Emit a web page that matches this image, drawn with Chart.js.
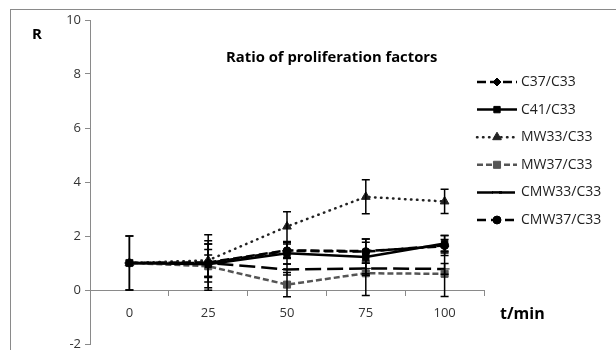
<!DOCTYPE html>
<html>
<head>
<meta charset="utf-8">
<script src="https://cdn.jsdelivr.net/npm/chart.js@4"></script>
<style>
  html, body { margin: 0; padding: 0; background: #fff; }
  #wrap { position: relative; width: 616px; height: 350px; }
</style>
</head>
<body>
<div id="wrap"><canvas id="chart" width="616" height="350"></canvas></div>
<script>
const times = ["0", "25", "50", "75", "100"];
const yTicks = [-2, 0, 2, 4, 6, 8, 10];

const c37 = [1.0, 1.02, 1.47, 1.44, 1.62];
const c41 = [1.0, 0.95, 1.36, 1.22, 1.72];
const mw33 = [1.0, 1.1, 2.35, 3.45, 3.28];
const mw37 = [1.0, 0.88, 0.2, 0.62, 0.6];
const cmw33 = [1.0, 1.0, 0.76, 0.8, 0.78];
const cmw37 = [1.0, 1.0, 1.45, 1.42, 1.65];

const c37Err = [1.0, 1.03, 0.3, 0.45, 0.25];
const c41Err = [1.0, 0.87, 0.4, 0.67, 0.3];
const mw33Err = [0, 0.6, 0.55, 0.63, 0.45];
const mw37Err = [0, 0.42, 0.45, 0.82, 0.84];
const cmw33Err = [0, 0.7, 0.2, 0.2, 0.2];
const cmw37Err = [0, 0.5, 0.25, 0.35, 0.37];

const font = "'Open Sans', sans-serif";

const series = (label, data, err, color, dash, pointStyle, radius) => ({
  label: label,
  data: data,
  errors: err,
  borderColor: color,
  backgroundColor: color,
  borderWidth: 2.5,
  borderDash: dash,
  pointStyle: pointStyle,
  pointRadius: radius,
  pointBorderWidth: 1,
  pointBorderColor: color,
  pointBackgroundColor: color,
  tension: 0,
  fill: false,
});

const datasets = [
  series("C37/C33", c37, c37Err, "#000", [9, 4], "rectRot", 4),
  series("C41/C33", c41, c41Err, "#000", [], "rect", 4.5),
  series("MW33/C33", mw33, mw33Err, "#222", [0.5, 5.5], "triangle", 5),
  series("MW37/C33", mw37, mw37Err, "#555", [6, 3], "rect", 5),
  series("CMW33/C33", cmw33, cmw33Err, "#000", [16, 6], "line", 5),
  series("CMW37/C33", cmw37, cmw37Err, "#000", [9, 5], "circle", 4),
];
datasets[2].borderCapStyle = "round";

const decorPlugin = {
  id: "decor",
  beforeDraw(chart) {
    const ctx = chart.ctx;
    ctx.save();
    ctx.strokeStyle = "#8a8a8a";
    ctx.lineWidth = 1;
    ctx.strokeRect(10.5, 9.5, 700, 400);
    ctx.restore();
  },
  afterDatasetsDraw(chart) {
    const ctx = chart.ctx;
    const y = chart.scales.y;
    ctx.save();
    ctx.strokeStyle = "#000";
    ctx.lineWidth = 1.5;
    chart.data.datasets.forEach((ds, i) => {
      const meta = chart.getDatasetMeta(i);
      meta.data.forEach((pt, j) => {
        const e = ds.errors[j];
        if (!e) return;
        const top = y.getPixelForValue(ds.data[j] + e);
        const bot = y.getPixelForValue(ds.data[j] - e);
        ctx.beginPath();
        ctx.moveTo(pt.x, top);
        ctx.lineTo(pt.x, bot);
        ctx.moveTo(pt.x - 4, top);
        ctx.lineTo(pt.x + 4, top);
        ctx.moveTo(pt.x - 4, bot);
        ctx.lineTo(pt.x + 4, bot);
        ctx.stroke();
      });
    });
    ctx.restore();
  },
  afterDraw(chart) {
    const ctx = chart.ctx;
    ctx.save();
    ctx.fillStyle = "#000";
    ctx.textBaseline = "middle";
    ctx.textAlign = "left";
    ctx.font = "bold 14.8px " + font;
    ctx.fillText("Ratio of proliferation factors", 226, 58);
    ctx.font = "bold 15px " + font;
    ctx.fillText("R", 32, 35);
    ctx.font = "bold 16px " + font;
    ctx.fillText("t/min", 500, 314);

    // legend
    ctx.font = "14px " + font;
    chart.data.datasets.forEach((ds, i) => {
      const ly = 82 + i * 27.6;
      ctx.save();
      ctx.strokeStyle = ds.borderColor;
      ctx.lineWidth = 2.5;
      ctx.setLineDash(ds.borderDash);
      if (ds.borderCapStyle) ctx.lineCap = ds.borderCapStyle;
      ctx.beginPath();
      ctx.moveTo(477, ly);
      ctx.lineTo(517, ly);
      ctx.stroke();
      ctx.restore();
      ctx.save();
      ctx.fillStyle = ds.pointBackgroundColor;
      ctx.strokeStyle = ds.pointBorderColor;
      ctx.lineWidth = ds.pointStyle === "line" ? 2.5 : 1;
      Chart.helpers.drawPoint(ctx, {
        pointStyle: ds.pointStyle,
        radius: ds.pointRadius,
        rotation: 0,
        borderWidth: 1,
      }, 497, ly);
      ctx.restore();
      ctx.fillStyle = "#222";
      ctx.fillText(ds.label, 521, ly);
    });
    ctx.restore();
  },
};

new Chart(document.getElementById("chart"), {
  type: "line",
  data: { labels: times, datasets: datasets },
  options: {
    responsive: false,
    animation: false,
    layout: { padding: { left: 0, right: 132, top: 20, bottom: 5 } },
    plugins: { legend: { display: false }, tooltip: { enabled: false } },
    scales: {
      x: {
        position: { y: 0 },
        offset: true,
        grid: { offset: true, drawOnChartArea: false, tickLength: 5, color: "#8a8a8a" },
        border: { color: "#8a8a8a", width: 1 },
        ticks: { padding: 10, color: "#333", font: { family: font, size: 13 } },
      },
      y: {
        min: -2,
        max: 10,
        afterBuildTicks: (s) => { s.ticks = yTicks.map((v) => ({ value: v })); },
        afterFit: (s) => { s.width = 90; s.paddingTop = 0; s.paddingBottom = 0; },
        grid: { drawOnChartArea: false, tickLength: 5, color: "#8a8a8a" },
        border: { color: "#8a8a8a", width: 1 },
        ticks: { padding: 4, color: "#333", font: { family: font, size: 13 } },
      },
    },
  },
  plugins: [decorPlugin],
});
</script>
</body>
</html>
